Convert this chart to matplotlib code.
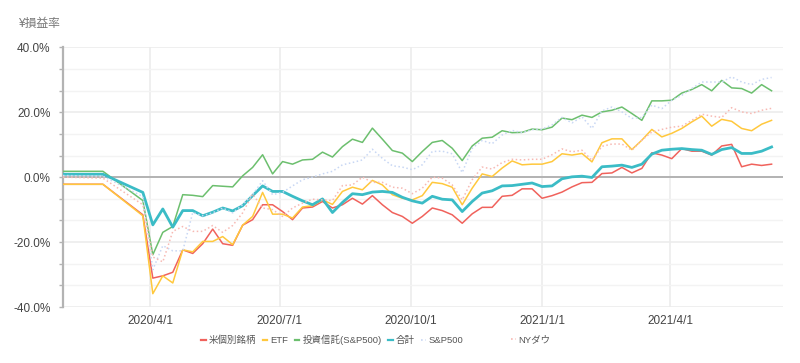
#!/usr/bin/env python3
"""
Plot weekly profit/loss ratio per asset class vs. the S&P500 / NY Dow benchmarks.
"""

import matplotlib

matplotlib.use("Agg")
import matplotlib.dates as mdates
import matplotlib.pyplot as plt
import pandas as pd
from matplotlib.lines import Line2D
from matplotlib.ticker import FixedLocator, FuncFormatter

# Two month-end snapshots, then one snapshot every Friday.
MONTHLY_DATES = ["2020-01-31", "2020-02-28"]
WEEKLY_START = "2020-03-27"
WEEKLY_COUNT = 64

US_STOCKS = [
    -2.2, -2.2,
    -11.6, -31.1, -30.4, -29.3, -22.4, -23.5, -20.5, -16.0, -20.5, -21.0,
    -14.8, -13.1, -8.5, -8.5, -10.6, -13.1, -9.5, -9.2, -7.5, -9.5,
    -8.5, -6.5, -8.3, -5.7, -8.5, -10.9, -12.1, -14.2, -12.1, -9.5,
    -10.3, -11.6, -14.2, -11.3, -9.3, -9.3, -5.9, -5.6, -3.6, -3.6,
    -6.5, -5.7, -4.6, -3.0, -1.7, -1.6, 1.1, 1.3, 3.0, 1.3,
    2.7, 7.5, 6.8, 5.7, 8.8, 8.0, 8.0, 6.8, 9.6, 10.1,
    3.2, 4.0, 3.6, 4.0,
]
ETF = [
    -2.2, -2.2,
    -11.9, -35.9, -30.4, -32.6, -22.4, -23.0, -19.8, -19.8, -18.3, -20.8,
    -14.8, -12.1, -4.7, -11.4, -11.4, -12.6, -9.2, -8.8, -7.0, -8.4,
    -4.4, -3.1, -3.9, -1.0, -2.4, -5.4, -6.5, -7.0, -5.7, -1.6,
    -2.0, -3.1, -8.5, -3.4, 1.0, 0.2, 2.8, 5.0, 3.8, 4.0,
    4.0, 4.8, 7.2, 6.8, 7.3, 4.7, 10.6, 11.8, 11.8, 8.5,
    11.4, 14.7, 12.4, 13.5, 15.0, 17.0, 18.8, 15.7, 17.8, 17.2,
    15.0, 14.3, 16.3, 17.5,
]
FUND_SP500 = [
    1.8, 1.8,
    -7.2, -23.9, -17.0, -15.2, -5.4, -5.6, -6.0, -2.6, -2.8, -3.0,
    0.4, 3.0, 6.9, 1.0, 4.8, 4.0, 5.3, 5.5, 7.7, 6.2,
    9.4, 11.7, 10.7, 15.1, 11.7, 8.2, 7.4, 4.8, 7.9, 10.7,
    11.3, 8.9, 5.1, 9.6, 12.0, 12.3, 14.3, 13.7, 13.8, 14.8,
    14.6, 15.4, 18.2, 17.7, 19.1, 18.4, 20.1, 20.6, 21.6, 19.6,
    17.5, 23.5, 23.5, 23.7, 25.9, 27.0, 28.5, 26.6, 29.8, 27.5,
    27.3, 25.9, 28.5, 26.6,
]
TOTAL = [
    0.9, 0.9,
    -4.7, -14.7, -9.8, -15.4, -10.3, -10.3, -11.9, -10.8, -9.5, -10.4,
    -8.8, -5.7, -2.7, -4.4, -4.4, -5.9, -7.3, -8.5, -6.7, -10.9,
    -7.8, -5.1, -5.4, -4.6, -4.4, -4.7, -6.2, -7.3, -8.0, -5.9,
    -6.8, -7.0, -10.6, -7.5, -4.9, -4.2, -2.7, -2.6, -2.2, -1.8,
    -2.9, -2.7, -0.5, 0.1, 0.3, -0.1, 3.2, 3.4, 3.7, 3.0,
    4.0, 7.1, 8.3, 8.6, 8.8, 8.5, 8.3, 7.0, 8.5, 9.1,
    7.3, 7.3, 8.0, 9.3,
]
SP500 = [
    0.5, 0.3,
    -6.0, -28.5, -21.1, -22.7, -22.7, -10.9, -11.9, -11.0, -9.5, -11.0,
    -8.5, -5.4, -1.1, -5.4, -4.7, -2.7, -0.8, 0.0, 1.0, 1.8,
    3.8, 4.5, 5.3, 8.6, 5.8, 3.5, 3.1, 2.3, 3.8, 7.9,
    8.0, 7.2, 1.4, 8.9, 11.3, 10.3, 13.0, 14.4, 13.7, 14.6,
    14.8, 16.1, 18.4, 16.7, 18.6, 15.0, 20.4, 21.6, 20.1, 18.1,
    18.4, 22.2, 21.1, 23.7, 25.2, 27.3, 29.3, 29.3, 29.3, 30.9,
    29.3, 28.5, 30.1, 30.7,
]
NY_DOW = [
    0.0, -0.3,
    -8.5, -24.6, -26.1, -16.7, -15.2, -16.7, -16.7, -14.9, -17.0, -14.9,
    -11.0, -5.2, -9.5, -10.0, -12.1, -9.5, -8.0, -6.8, -7.0, -7.2,
    -2.6, -2.4, 0.0, -1.6, -1.6, -3.1, -3.4, -5.1, -3.4, 0.0,
    -0.3, -2.4, -7.0, -0.8, 3.1, 2.5, 4.5, 5.5, 5.3, 5.5,
    5.5, 6.9, 8.7, 7.8, 8.3, 5.2, 9.5, 10.2, 10.2, 8.3,
    11.4, 13.9, 14.7, 15.4, 15.7, 17.5, 19.4, 18.8, 18.4, 21.4,
    20.1, 19.6, 20.6, 21.2,
]

SERIES_LABELS = ["米個別銘柄", "ETF", "投資信託(S&P500)", "合計", "S&P500", "NYダウ"]
X_TICK_DATES = ["2020-04-01", "2020-07-01", "2020-10-01", "2021-01-01", "2021-04-01"]
Y_LABEL_TICKS = [-40, -20, 0, 20, 40]
Y_GRID_TICKS = [-40 + i * 80 / 12 for i in range(13)]
Y_TITLE = "¥損益率"

SERIES_STYLES = [
    {"color": "#f0625c", "lw": 1.1, "ls": "-"},
    {"color": "#ffc83d", "lw": 1.1, "ls": "-"},
    {"color": "#6cbf6e", "lw": 1.1, "ls": "-"},
    {"color": "#3bbcc6", "lw": 2.0, "ls": "-"},
    {"color": "#c8d7f4", "lw": 1.1, "ls": ":"},
    {"color": "#f7b9b3", "lw": 1.1, "ls": ":"},
]

TEXT_COLOR = "#444444"
GRID_COLOR = "#ececec"
AXIS_COLOR = "#b3b3b3"


def build_dates():
    weekly = pd.date_range(WEEKLY_START, periods=WEEKLY_COUNT, freq="7D")
    return list(pd.to_datetime(MONTHLY_DATES)) + list(weekly)


def main():
    plt.rcParams["font.family"] = ["Liberation Sans", "Noto Sans CJK JP", "DejaVu Sans"]

    dates = build_dates()
    all_series = [US_STOCKS, ETF, FUND_SP500, TOTAL, SP500, NY_DOW]

    fig = plt.figure(figsize=(8.0, 3.63), dpi=100)
    ax = fig.add_axes([63 / 800, 1 - 307 / 363, 720 / 800, 259.7 / 363])

    for values, label, style in zip(all_series, SERIES_LABELS, SERIES_STYLES):
        ax.plot(
            dates,
            values,
            color=style["color"],
            linewidth=style["lw"],
            linestyle=style["ls"],
            label=label,
            zorder=3,
        )

    ax.set_xlim(pd.Timestamp("2020-01-31"), pd.Timestamp("2021-06-19"))
    ax.set_ylim(-40, 40)

    ax.xaxis.set_major_locator(FixedLocator(mdates.date2num(pd.to_datetime(X_TICK_DATES))))
    ax.xaxis.set_major_formatter(FuncFormatter(lambda v, _: f"{mdates.num2date(v):%Y/%-m/%-d}"))
    ax.yaxis.set_major_locator(FixedLocator(Y_LABEL_TICKS))
    ax.yaxis.set_minor_locator(FixedLocator(Y_GRID_TICKS))
    ax.yaxis.set_major_formatter(FuncFormatter(lambda v, _: f"{v:.1f}%"))

    ax.grid(True, axis="both", which="major", color=GRID_COLOR, linewidth=1.2, zorder=0)
    ax.grid(True, axis="y", which="minor", color="#f3f3f3", linewidth=1.0, zorder=0)
    ax.axhline(0, color=AXIS_COLOR, linewidth=1.4, zorder=2)

    for side in ("top", "right", "bottom"):
        ax.spines[side].set_visible(False)
    ax.spines["left"].set_color(AXIS_COLOR)
    ax.spines["left"].set_linewidth(1.6)

    ax.tick_params(axis="x", length=0, pad=6, labelsize=8.5, labelcolor=TEXT_COLOR)
    ax.tick_params(axis="y", which="both", length=3, width=1, color=AXIS_COLOR,
                   pad=6, labelsize=8.5, labelcolor=TEXT_COLOR)

    fig.text(18 / 800, 1 - 24 / 363, Y_TITLE, fontsize=8.5, color="#777777",
             ha="left", va="center")

    handles = [
        Line2D([0], [0], color=s["color"], linewidth=1.6 if s["ls"] == "-" else 1.2,
               linestyle=s["ls"])
        for s in SERIES_STYLES
    ]
    common = dict(
        frameon=False,
        fontsize=6.8,
        handlelength=0.5,
        handletextpad=0.3,
        columnspacing=0.7,
        labelcolor="#555555",
        borderaxespad=0,
        borderpad=0,
    )
    fig.legend(handles[:5], SERIES_LABELS[:5], ncol=5, loc="center left",
               bbox_to_anchor=(201 / 800, 1 - 340 / 363), **common)
    fig.legend(handles[5:], SERIES_LABELS[5:], ncol=1, loc="center left",
               bbox_to_anchor=(511 / 800, 1 - 340 / 363), **common)

    fig.savefig("out.png", dpi=100)
    plt.close(fig)


if __name__ == "__main__":
    main()
